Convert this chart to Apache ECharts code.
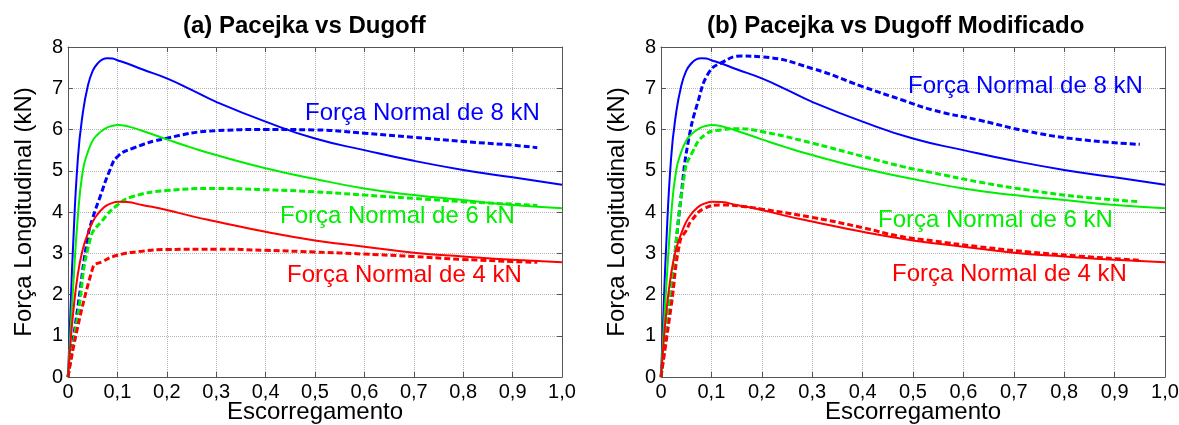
<!DOCTYPE html>
<html>
<head>
<meta charset="utf-8">
<script src="https://cdn.jsdelivr.net/npm/echarts@6/dist/echarts.min.js"></script>
<style>
  html, body { margin: 0; padding: 0; background: #fff; }
  #chart { width: 1179px; height: 425px; }
</style>
</head>
<body>
<div id="chart"></div>
<script>
// escorregamento (slip) das curvas de Pacejka
const pacSlip = [0, 0.005, 0.01, 0.02, 0.03, 0.04, 0.05, 0.06, 0.07, 0.08, 0.09, 0.1, 0.12, 0.15, 0.2, 0.25, 0.3, 0.4, 0.5, 0.6, 0.7, 0.8, 0.9, 1.0];
const pac8 = [0, 1.6, 3.1, 5.3, 6.4, 7.05, 7.42, 7.6, 7.7, 7.73, 7.72, 7.68, 7.6, 7.46, 7.24, 6.96, 6.67, 6.19, 5.78, 5.5, 5.24, 5.02, 4.84, 4.66];
const pac6 = [0, 1.1, 2.1, 3.9, 5.0, 5.45, 5.73, 5.88, 5.98, 6.05, 6.09, 6.11, 6.08, 5.97, 5.76, 5.56, 5.38, 5.06, 4.8, 4.57, 4.41, 4.29, 4.17, 4.09];
const pac4 = [0, 0.8, 1.5, 2.5, 3.1, 3.47, 3.76, 3.95, 4.08, 4.17, 4.22, 4.25, 4.24, 4.17, 4.05, 3.9, 3.77, 3.52, 3.31, 3.16, 3.01, 2.92, 2.84, 2.78];

// Dugoff (a)
const dugSlip8 = [0, 0.02, 0.04, 0.05, 0.065, 0.085, 0.1, 0.13, 0.2, 0.3, 0.4, 0.5, 0.6, 0.7, 0.8, 0.9, 0.95];
const dug8 = [0, 1.7, 3.4, 3.85, 4.37, 5.02, 5.34, 5.54, 5.79, 5.97, 6.0, 5.99, 5.91, 5.81, 5.71, 5.62, 5.56];
const dugSlip6 = [0, 0.02, 0.045, 0.07, 0.1, 0.13, 0.2, 0.3, 0.4, 0.5, 0.6, 0.7, 0.8, 0.9, 0.95];
const dug6 = [0, 1.5, 3.35, 3.8, 4.17, 4.37, 4.52, 4.57, 4.54, 4.49, 4.41, 4.33, 4.25, 4.19, 4.16];
const dugSlip4 = [0, 0.05, 0.07, 0.1, 0.15, 0.2, 0.3, 0.4, 0.5, 0.6, 0.7, 0.8, 0.9, 0.95];
const dug4 = [0, 2.64, 2.8, 2.95, 3.05, 3.09, 3.1, 3.07, 3.03, 2.98, 2.92, 2.85, 2.8, 2.78];

// Dugoff modificado (b)
const modSlip8 = [0, 0.02, 0.04, 0.054, 0.074, 0.095, 0.12, 0.16, 0.2, 0.3, 0.4, 0.48, 0.54, 0.63, 0.73, 0.83, 0.95];
const mod8 = [0, 2.1, 4.4, 5.7, 6.7, 7.38, 7.62, 7.78, 7.76, 7.48, 7.04, 6.71, 6.47, 6.23, 5.95, 5.76, 5.64];
const modSlip6 = [0, 0.02, 0.047, 0.061, 0.087, 0.12, 0.15, 0.2, 0.3, 0.4, 0.48, 0.54, 0.63, 0.73, 0.83, 0.95];
const mod6 = [0, 2.1, 4.95, 5.42, 5.87, 5.99, 6.02, 5.95, 5.67, 5.35, 5.1, 4.95, 4.73, 4.53, 4.37, 4.25];
const modSlip4 = [0, 0.02, 0.038, 0.05, 0.061, 0.087, 0.12, 0.167, 0.2, 0.3, 0.4, 0.47, 0.54, 0.63, 0.73, 0.83, 0.95];
const mod4 = [0, 1.7, 3.3, 3.55, 3.8, 4.09, 4.17, 4.13, 4.07, 3.87, 3.62, 3.42, 3.3, 3.16, 3.03, 2.93, 2.83];

const titles = ['(a) Pacejka vs Dugoff', '(b) Pacejka vs Dugoff Modificado'];
const labels = ['Força Normal de 8 kN', 'Força Normal de 6 kN', 'Força Normal de 4 kN'];

const BLUE = '#0000ff', GREEN = '#00ee00', RED = '#ff0000';
const FONT = 'Liberation Sans, Arial, sans-serif';

function zip(xs, ys) { return xs.map((x, i) => [x, ys[i]]); }

function fmtX(v) {
  if (v === 0) return '0';
  return v.toFixed(1).replace('.', ',');
}

const grids = [
  { left: 68, top: 47, width: 494, height: 330, outerBoundsMode: 'none' },
  { left: 661, top: 47, width: 504, height: 330, outerBoundsMode: 'none' }
];

let xAxes = [], yAxes = [];
grids.forEach((g, i) => {
  xAxes.push({
    type: 'value', gridIndex: i, min: 0, max: 1, interval: 0.1,
    name: 'Escorregamento', nameLocation: 'middle', nameGap: 23, nameMoveOverlap: false,
    nameTextStyle: { fontFamily: FONT, fontSize: 24, color: '#000' },
    axisLine: { show: true, onZero: false, lineStyle: { color: '#555', width: 1 } },
    axisTick: { show: true, inside: true, length: 5, lineStyle: { color: '#555' } },
    axisLabel: { fontFamily: FONT, fontSize: 20, color: '#000', margin: 5, formatter: fmtX },
    splitLine: { show: true, lineStyle: { type: 'dotted', color: '#b5b5b5', width: 1 } }
  });
  xAxes.push({
    type: 'value', gridIndex: i, min: 0, max: 1, interval: 0.1, position: 'top',
    axisLine: { show: true, onZero: false, lineStyle: { color: '#555', width: 1 } },
    axisTick: { show: true, inside: true, length: 5, lineStyle: { color: '#555' } },
    axisLabel: { show: false }, splitLine: { show: false }
  });
  yAxes.push({
    type: 'value', gridIndex: i, min: 0, max: 8, interval: 1,
    name: 'Força Longitudinal (kN)', nameLocation: 'middle', nameGap: 32,
    nameTextStyle: { fontFamily: FONT, fontSize: 24, color: '#000' },
    axisLine: { show: true, onZero: false, lineStyle: { color: '#555', width: 1 } },
    axisTick: { show: true, inside: true, length: 5, lineStyle: { color: '#555' } },
    axisLabel: { fontFamily: FONT, fontSize: 20, color: '#000', margin: 5 },
    splitLine: { show: true, lineStyle: { type: 'dotted', color: '#b5b5b5', width: 1 } }
  });
  yAxes.push({
    type: 'value', gridIndex: i, min: 0, max: 8, interval: 1, position: 'right',
    axisLine: { show: true, onZero: false, lineStyle: { color: '#555', width: 1 } },
    axisTick: { show: true, inside: true, length: 5, lineStyle: { color: '#555' } },
    axisLabel: { show: false }, splitLine: { show: false }
  });
});

function solid(gi, data, color) {
  return {
    type: 'line', xAxisIndex: gi * 2, yAxisIndex: gi * 2, data: data,
    showSymbol: false, smooth: 0.5, z: 3,
    lineStyle: { color: color, width: 2 }
  };
}
function dashed(gi, data, color) {
  return {
    type: 'line', xAxisIndex: gi * 2, yAxisIndex: gi * 2, data: data,
    showSymbol: false, smooth: 0.5, z: 2,
    lineStyle: { color: color, width: 3, type: [6, 3] }
  };
}

const series = [];
[0, 1].forEach(gi => {
  series.push(solid(gi, zip(pacSlip, pac8), BLUE));
  series.push(solid(gi, zip(pacSlip, pac6), GREEN));
  series.push(solid(gi, zip(pacSlip, pac4), RED));
});
series.push(dashed(0, zip(dugSlip8, dug8), BLUE));
series.push(dashed(0, zip(dugSlip6, dug6), GREEN));
series.push(dashed(0, zip(dugSlip4, dug4), RED));
series.push(dashed(1, zip(modSlip8, mod8), BLUE));
series.push(dashed(1, zip(modSlip6, mod6), GREEN));
series.push(dashed(1, zip(modSlip4, mod4), RED));

function note(text, left, top, color) {
  return {
    type: 'text', left: left, top: top, z: 10,
    style: { text: text, fill: color, font: '24px ' + FONT }
  };
}

const chart = echarts.init(document.getElementById('chart'), null, { renderer: 'canvas' });
chart.setOption({
  backgroundColor: '#fff',
  animation: false,
  title: [
    { text: titles[0], left: 183, top: 14, padding: 0, textStyle: { fontFamily: FONT, fontSize: 24, fontWeight: 'bold', color: '#000' } },
    { text: titles[1], left: 707, top: 14, padding: 0, textStyle: { fontFamily: FONT, fontSize: 24, fontWeight: 'bold', color: '#000' } }
  ],
  grid: grids,
  xAxis: xAxes,
  yAxis: yAxes,
  series: series,
  graphic: [
    note(labels[0], 305, 101, BLUE),
    note(labels[1], 280, 204, GREEN),
    note(labels[2], 287, 263, RED),
    note(labels[0], 908, 74, BLUE),
    note(labels[1], 878, 208, GREEN),
    note(labels[2], 892, 262, RED)
  ]
});
</script>
</body>
</html>
